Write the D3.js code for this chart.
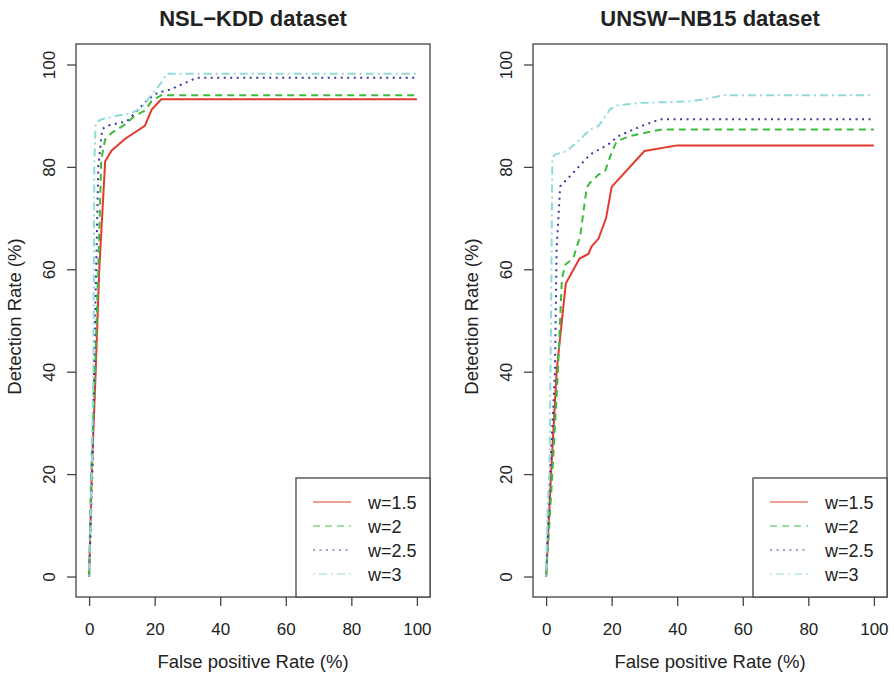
<!DOCTYPE html>
<html>
<head>
<meta charset="utf-8">
<script src="https://cdn.jsdelivr.net/npm/d3@7"></script>
<style>
  body { margin: 0; background: #fff; }
  text { font-family: "Liberation Sans", Arial, sans-serif; fill: #222; }
</style>
</head>
<body>
<svg id="chart" width="894" height="677"></svg>
<script>
// datos (FPR %, DR %)
const seriesNames = ["w=1.5", "w=2", "w=2.5", "w=3"];
const xTicks = [0, 20, 40, 60, 80, 100];
const yTicks = [0, 20, 40, 60, 80, 100];

// NSL-KDD
const nslFpr15 = [0, 0.8, 2, 3.1, 4.9, 6.9, 11, 17, 19.1, 22, 100];
const nslDr15  = [0, 20, 40, 60, 81.1, 83.2, 85.5, 88, 91.2, 93.2, 93.2];
const nslFpr2  = [0, 0.6, 1.8, 2.8, 3.7, 4.9, 7, 11, 14, 17, 19, 22, 100];
const nslDr2   = [0, 20, 40, 60, 81.4, 85.4, 86.7, 88.3, 90, 91, 92.8, 94, 94];
const nslFpr25 = [0, 1, 1.5, 2.8, 4, 5.9, 11.5, 15, 18, 21, 24.7, 29.3, 32.8, 100];
const nslDr25  = [0, 20, 40, 80, 87.4, 88.1, 88.9, 91.2, 93.2, 94.5, 95.1, 96.4, 97.4, 97.4];
const nslFpr3  = [0, 0.8, 1.3, 1.6, 2, 3.9, 8.5, 12.5, 16, 19, 22, 23.7, 100];
const nslDr3   = [0, 20, 40, 81, 88.6, 89.3, 90, 90.4, 91.5, 94.1, 96.4, 98.2, 98.2];

// UNSW-NB15
const unswFpr15 = [0, 1.5, 3.2, 6, 10.2, 12.9, 13.9, 16, 18.3, 20, 30, 40, 100];
const unswDr15  = [0, 20, 40, 57.2, 62.1, 63, 64.5, 66, 70, 76.1, 83.1, 84.2, 84.2];
const unswFpr2  = [0, 1.9, 3.6, 4.8, 5.8, 8.3, 10.4, 12.4, 13.4, 16, 18, 20, 21.5, 25.6, 32.7, 35.3, 100];
const unswDr2   = [0, 20, 40, 58, 60.9, 62.2, 66.5, 76, 76.9, 78.5, 79.2, 82.8, 85, 86, 87, 87.3, 87.3];
const unswFpr25 = [0, 1.2, 2.7, 3.2, 4.3, 7.3, 13.4, 19, 22, 29.2, 34.8, 100];
const unswDr25  = [0, 20, 40, 64, 76.2, 78.2, 82.4, 84.4, 86, 88, 89.3, 89.3];
const unswFpr3  = [0, 0.5, 1.0, 1.5, 1.9, 2.7, 6.3, 10.4, 13.4, 16, 19.5, 21.6, 28.7, 39.8, 44.4, 50.5, 54, 100];
const unswDr3   = [0, 14, 20, 50, 81.8, 82.4, 83.1, 85.4, 87.3, 88, 91.2, 92, 92.5, 92.7, 92.8, 93.5, 94, 94];

const colors = ["#e23a2e", "#3dbb3d", "#3a3aa8", "#8fdbd8"];
const dashes = [null, "7,5", "2,4.5", "2,4,8,4"];

const svg = d3.select("#chart");

function zip(xs, ys) {
  return xs.map((x, i) => ({ x: x, y: ys[i] }));
}

function drawPanel(left, right, title, series) {
  const top = 44, bottom = 597;
  // R extiende el dominio un 4%
  const x = d3.scaleLinear().domain([-4, 104]).range([left, right]);
  const y = d3.scaleLinear().domain([-4, 104]).range([bottom, top]);
  const g = svg.append("g");

  const line = d3.line().x(d => x(d.x)).y(d => y(d.y));

  series.forEach((s, i) => {
    g.append("path")
      .datum(s)
      .attr("d", line)
      .attr("fill", "none")
      .attr("stroke", colors[i])
      .attr("stroke-width", 2)
      .attr("stroke-dasharray", dashes[i]);
  });

  // caja
  g.append("rect")
    .attr("x", left).attr("y", top)
    .attr("width", right - left).attr("height", bottom - top)
    .attr("fill", "none").attr("stroke", "#444").attr("stroke-width", 1.3);

  // eje x
  const xa = g.append("g").attr("transform", `translate(0,${bottom})`)
    .call(d3.axisBottom(x).tickValues(xTicks).tickSize(9).tickPadding(17).tickSizeOuter(0));
  xa.select(".domain").remove();
  xa.selectAll("line").attr("stroke", "#444").attr("stroke-width", 1.3);
  xa.selectAll("text").attr("font-size", 17).attr("fill", "#222")
    .attr("font-family", "Liberation Sans, Arial, sans-serif");

  // eje y (etiquetas verticales como en R)
  const ya = g.append("g").attr("transform", `translate(${left},0)`)
    .call(d3.axisLeft(y).tickValues(yTicks).tickSize(9).tickSizeOuter(0));
  ya.select(".domain").remove();
  ya.selectAll("line").attr("stroke", "#444").attr("stroke-width", 1.3);
  ya.selectAll("text")
    .attr("font-size", 17).attr("fill", "#222")
    .attr("font-family", "Liberation Sans, Arial, sans-serif")
    .attr("x", null).attr("dy", null)
    .attr("text-anchor", "middle")
    .attr("transform", d => `translate(${-21},0) rotate(-90)`);

  g.append("text")
    .attr("x", (left + right) / 2).attr("y", 26)
    .attr("text-anchor", "middle")
    .attr("font-size", 22).attr("font-weight", "bold")
    .text(title);

  g.append("text")
    .attr("x", (x(0) + x(100)) / 2).attr("y", 668)
    .attr("text-anchor", "middle")
    .attr("font-size", 18.5)
    .text("False positive Rate (%)");

  g.append("text")
    .attr("transform", `translate(${left - 55},${(top + bottom) / 2 - 4}) rotate(-90)`)
    .attr("text-anchor", "middle")
    .attr("font-size", 18.5)
    .text("Detection Rate (%)");

  // leyenda
  const lg = g.append("g");
  const lx = right - 134;
  lg.append("rect")
    .attr("x", lx).attr("y", 478)
    .attr("width", 134).attr("height", bottom - 478)
    .attr("fill", "#fff").attr("stroke", "#444").attr("stroke-width", 1.3);
  seriesNames.forEach((name, i) => {
    const ly = 502 + i * 24;
    lg.append("line")
      .attr("x1", lx + 17).attr("x2", lx + 55)
      .attr("y1", ly).attr("y2", ly)
      .attr("stroke", colors[i]).attr("stroke-width", 1.5)
      .attr("stroke-opacity", 0.65)
      .attr("stroke-dasharray", dashes[i]);
    lg.append("text")
      .attr("x", lx + 72).attr("y", ly + 6.5)
      .attr("font-size", 18)
      .text(name);
  });
}

drawPanel(76, 430, "NSL\u2212KDD dataset", [
  zip(nslFpr15, nslDr15), zip(nslFpr2, nslDr2), zip(nslFpr25, nslDr25), zip(nslFpr3, nslDr3)
]);
drawPanel(533, 887, "UNSW\u2212NB15 dataset", [
  zip(unswFpr15, unswDr15), zip(unswFpr2, unswDr2), zip(unswFpr25, unswDr25), zip(unswFpr3, unswDr3)
]);
</script>
</body>
</html>
